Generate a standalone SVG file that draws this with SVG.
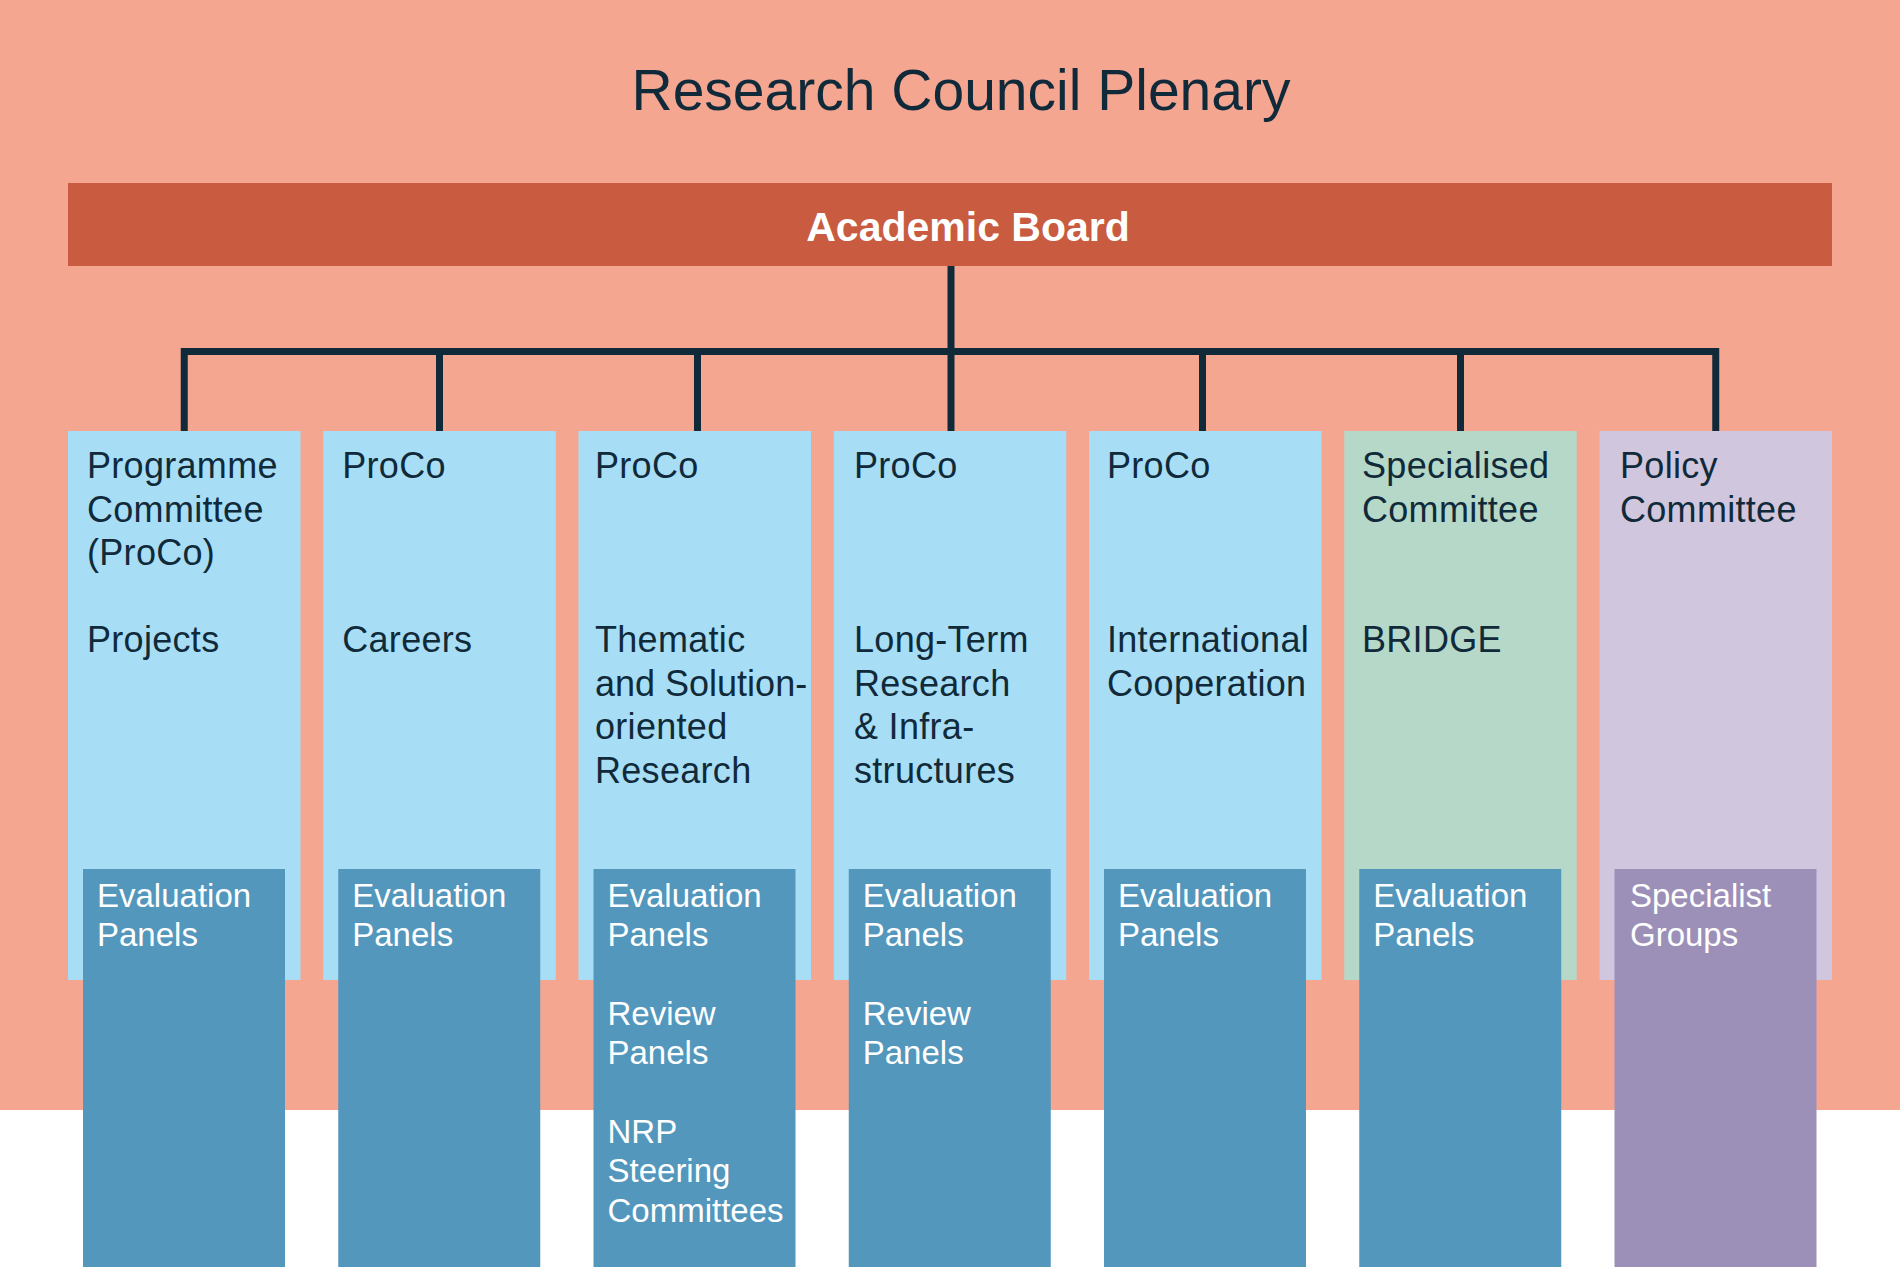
<svg xmlns="http://www.w3.org/2000/svg" width="1900" height="1267" viewBox="0 0 1900 1267">
<style>
.t{font-family:"Liberation Sans",Arial,sans-serif;font-size:36px;fill:#102A3A;letter-spacing:0.3px}
.d{font-family:"Liberation Sans",Arial,sans-serif;font-size:33px;fill:#FFFFFF}
.lb{fill:#A8DEF5}
.db{fill:#5397BD}
.conn{fill:none;stroke:#102A3A;stroke-width:7;stroke-linejoin:miter}
</style>
<rect x="0" y="0" width="1900" height="1267" fill="#FFFFFF"/>
<rect x="0" y="0" width="1900" height="1110" fill="#F4A690"/>
<g id="title"><text x="961" y="110" text-anchor="middle" style="font-family:'Liberation Sans',Arial,sans-serif;font-size:57px;fill:#102A3A">Research Council Plenary</text></g>
<g id="academic-board">
<rect x="68" y="183" width="1764" height="83" fill="#C85B40"/>
<text x="968" y="241" text-anchor="middle" style="font-family:'Liberation Sans',Arial,sans-serif;font-size:41px;font-weight:bold;fill:#FFFFFF">Academic Board</text>
</g>
<g id="connectors">
<path class="conn" d="M951 266 V351.5"/>
<path class="conn" d="M184.25 431 V351.5 H1715.75 V431"/>
<path class="conn" d="M439.5 351.5 V431"/>
<path class="conn" d="M697.5 351.5 V431"/>
<path class="conn" d="M951 351.5 V431"/>
<path class="conn" d="M1202.5 351.5 V431"/>
<path class="conn" d="M1460.5 351.5 V431"/>
</g>
<g id="proco-projects">
<rect class="lb" x="68" y="431" width="232.5" height="549"/>
<text class="t" x="87" y="478">Programme</text>
<text class="t" x="87" y="521.5">Committee</text>
<text class="t" x="87" y="565">(ProCo)</text>
<text class="t" x="87" y="652">Projects</text>
<rect class="db" x="83" y="869" width="202" height="398"/>
<text class="d" x="97" y="907">Evaluation</text>
<text class="d" x="97" y="946.3">Panels</text>
</g>
<g id="proco-careers">
<rect class="lb" x="323.25" y="431" width="232.5" height="549"/>
<text class="t" x="342.25" y="478">ProCo</text>
<text class="t" x="342.25" y="652">Careers</text>
<rect class="db" x="338.25" y="869" width="202" height="398"/>
<text class="d" x="352.25" y="907">Evaluation</text>
<text class="d" x="352.25" y="946.3">Panels</text>
</g>
<g id="proco-thematic">
<rect class="lb" x="578.5" y="431" width="232.5" height="549"/>
<text class="t" x="595" y="478">ProCo</text>
<text class="t" x="595" y="652">Thematic</text>
<text class="t" x="595" y="695.5" style="letter-spacing:0">and Solution-</text>
<text class="t" x="595" y="739">oriented</text>
<text class="t" x="595" y="782.5">Research</text>
<rect class="db" x="593.5" y="869" width="202" height="398"/>
<text class="d" x="607.5" y="907">Evaluation</text>
<text class="d" x="607.5" y="946.3">Panels</text>
<text class="d" x="607.5" y="1025">Review</text>
<text class="d" x="607.5" y="1064">Panels</text>
<text class="d" x="607.5" y="1143">NRP</text>
<text class="d" x="607.5" y="1182">Steering</text>
<text class="d" x="607.5" y="1221.6">Committees</text>
</g>
<g id="proco-long-term">
<rect class="lb" x="833.75" y="431" width="232.5" height="549"/>
<text class="t" x="854" y="478">ProCo</text>
<text class="t" x="854" y="652">Long-Term</text>
<text class="t" x="854" y="695.5">Research</text>
<text class="t" x="854" y="739">&amp; Infra-</text>
<text class="t" x="854" y="782.5">structures</text>
<rect class="db" x="848.75" y="869" width="202" height="398"/>
<text class="d" x="862.75" y="907">Evaluation</text>
<text class="d" x="862.75" y="946.3">Panels</text>
<text class="d" x="862.75" y="1025">Review</text>
<text class="d" x="862.75" y="1064">Panels</text>
</g>
<g id="proco-international">
<rect class="lb" x="1089" y="431" width="232.5" height="549"/>
<text class="t" x="1107" y="478">ProCo</text>
<text class="t" x="1107" y="652">International</text>
<text class="t" x="1107" y="695.5">Cooperation</text>
<rect class="db" x="1104" y="869" width="202" height="398"/>
<text class="d" x="1118" y="907">Evaluation</text>
<text class="d" x="1118" y="946.3">Panels</text>
</g>
<g id="specialised-committee">
<rect x="1344.25" y="431" width="232.5" height="549" fill="#B6D8C8"/>
<text class="t" x="1362" y="478">Specialised</text>
<text class="t" x="1362" y="521.5">Committee</text>
<text class="t" x="1362" y="652">BRIDGE</text>
<rect class="db" x="1359.25" y="869" width="202" height="398"/>
<text class="d" x="1373.25" y="907">Evaluation</text>
<text class="d" x="1373.25" y="946.3">Panels</text>
</g>
<g id="policy-committee">
<rect x="1599.5" y="431" width="232.5" height="549" fill="#D0C6DE"/>
<text class="t" x="1620" y="478">Policy</text>
<text class="t" x="1620" y="521.5">Committee</text>
<rect x="1614.5" y="869" width="202" height="398" fill="#9C90B9"/>
<text class="d" x="1630" y="907">Specialist</text>
<text class="d" x="1630" y="946.3">Groups</text>
</g>
</svg>
